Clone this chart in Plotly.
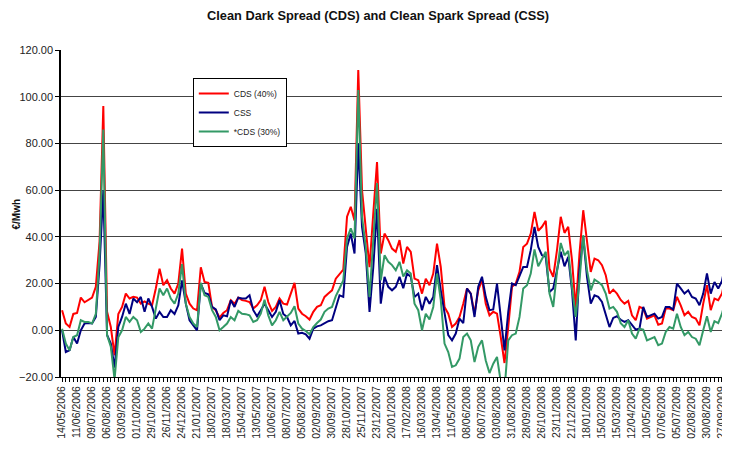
"""Clean Dark Spread (CDS) and Clean Spark Spread (CSS) weekly chart"""

import plotly.graph_objects as go
import pandas as pd

# weekly dates, 14/05/2006 onwards
dates = pd.date_range("2006-05-14", periods=179, freq="7D")

# CDS (40%) - €/Mwh
cds40 = [
    8.6, 2.9, 1.4, 7.0, 7.4, 14.0, 12.0, 13.0, 14.0, 18.6,
    38.0, 96.0, 7.9, 1.4, -10.7, 7.0, 10.0, 15.7, 13.6, 14.3,
    14.0, 11.4, 12.4, 11.4, 10.7, 17.9, 26.4, 19.3, 21.4, 17.9,
    15.7, 20.0, 35.0, 15.7, 11.4, 9.3, 8.6, 27.0, 20.7, 20.3,
    10.0, 8.6, 5.4, 7.4, 8.6, 12.9, 11.4, 14.0, 12.9, 12.6,
    12.1, 9.3, 10.7, 12.9, 18.6, 12.1, 8.3, 10.0, 13.6, 11.4,
    11.0, 15.7, 20.3, 9.3, 7.1, 6.0, 4.6, 7.9, 10.0, 10.7,
    14.3, 15.7, 17.1, 22.1, 24.3, 26.0, 48.6, 52.9, 47.0, 111.4,
    60.0, 42.9, 27.0, 50.0, 72.0, 32.9, 41.4, 38.6, 35.0, 33.6,
    38.6, 28.6, 35.7, 33.6, 22.1, 21.4, 15.7, 22.1, 19.3, 24.3,
    37.1, 27.1, 10.0, 7.1, 1.4, 2.9, 5.7, 11.4, 17.9, 15.7,
    7.1, 17.1, 21.7, 11.4, 6.4, 7.9, 7.1, -2.9, -14.0, 1.4,
    18.6, 20.0, 25.0, 35.7, 37.1, 41.4, 50.7, 42.6, 44.3, 46.9,
    26.4, 22.9, 34.3, 48.6, 41.7, 44.3, 30.0, 9.3, 32.9, 51.4,
    38.6, 25.0, 30.7, 30.0, 27.9, 23.6, 15.7, 17.4, 15.7, 13.0,
    11.4, 12.6, 6.4, 4.3, 10.0, 9.3, 5.0, 5.7, 6.4, 2.4,
    2.9, 9.3, 9.3, 8.6, 14.3, 10.7, 6.4, 7.9, 5.7, 5.0,
    2.1, 11.4, 19.3, 8.6, 13.6, 12.9, 15.7, 23.0, 23.0,
]

# CSS - €/Mwh
css = [
    0.0, -9.3, -8.6, -2.9, -5.7, 0.0, 2.9, 3.1, 2.9, 5.7,
    28.0, 60.0, -2.0, -5.7, -16.0, 1.4, 5.7, 11.4, 7.0, 13.6,
    12.0, 14.3, 7.9, 13.6, 10.0, 5.0, 7.9, 5.7, 5.7, 8.6,
    7.0, 10.7, 21.4, 11.4, 4.3, 2.1, 0.0, 20.0, 16.0, 15.4,
    10.0, 8.9, 4.3, 6.4, 6.0, 12.9, 10.0, 14.0, 13.6, 13.6,
    15.0, 8.6, 6.0, 8.6, 11.4, 8.6, 5.7, 7.9, 12.9, 7.0,
    5.7, 2.1, 4.0, -1.4, -1.1, -1.7, -3.6, 0.7, 1.7, 2.1,
    3.1, 3.9, 4.3, 10.0, 15.0, 14.3, 35.7, 41.4, 32.9, 80.0,
    44.3, 32.9, 7.9, 27.0, 52.0, 11.4, 22.9, 18.6, 17.1, 18.6,
    22.9, 18.0, 24.3, 22.9, 14.3, 15.7, 8.6, 14.3, 11.4, 14.3,
    27.9, 17.1, 7.1, -2.1, -4.3, -1.4, 5.0, 3.1, 17.9, 15.7,
    5.7, 18.6, 22.9, 14.3, 8.6, 8.9, 20.0, 5.0, -8.6, 7.9,
    20.0, 19.3, 22.9, 27.1, 27.1, 34.3, 44.3, 35.7, 32.1, 31.4,
    16.4, 17.9, 25.7, 33.6, 27.4, 31.4, 17.1, -4.3, 25.7, 40.0,
    22.9, 11.4, 15.0, 14.3, 12.1, 7.1, 1.4, 5.3, 6.0, 4.5,
    3.6, 4.3, 2.1, 0.3, 0.7, 10.0, 5.7, 6.4, 7.1, 5.0,
    5.7, 10.0, 10.0, 8.9, 20.0, 17.9, 15.7, 17.1, 14.3, 13.6,
    10.7, 15.7, 24.3, 15.7, 20.7, 17.9, 21.1, 29.3, 29.7,
]

# *CDS (30%) - €/Mwh
cds30 = [
    0.7, -5.7, -8.6, -2.9, -2.1, 4.3, 3.6, 3.6, 2.9, 7.0,
    33.0, 86.0, -2.0, -7.0, -21.0, -3.0, 0.0, 5.7, 3.6, 5.7,
    4.3, -0.7, 0.7, 2.9, 0.7, 10.0, 17.9, 15.0, 17.9, 13.6,
    11.4, 15.7, 28.3, 11.4, 5.7, 2.9, 1.4, 20.3, 15.0, 14.3,
    8.6, 5.7, 0.0, 1.4, 2.9, 5.7, 4.3, 8.3, 7.1, 6.9,
    6.4, 3.6, 4.3, 7.1, 13.1, 6.4, 2.1, 4.3, 7.9, 4.3,
    5.7, 7.4, 10.3, 2.9, 0.7, -0.3, -1.7, 1.4, 3.1, 4.6,
    7.9, 9.3, 10.0, 14.6, 17.9, 21.4, 39.3, 43.6, 39.3, 102.9,
    48.6, 35.7, 14.3, 40.0, 63.0, 21.4, 32.1, 29.3, 27.9, 25.7,
    29.3, 23.0, 25.7, 24.3, 11.4, 8.6, 0.0, 7.1, 4.6, 10.0,
    24.3, 12.9, -5.7, -9.3, -15.7, -15.0, -12.1, -2.9, -1.4, -4.3,
    -13.6, -7.1, -4.3, -12.9, -18.3, -14.3, -11.4, -22.0, -26.0, -4.3,
    -2.1, -1.4, 5.7, 17.9, 19.3, 24.3, 34.6, 27.4, 30.7, 33.6,
    15.7, 10.0, 25.0, 37.4, 32.1, 34.0, 18.6, 5.7, 21.4, 40.7,
    25.7, 17.1, 21.7, 20.7, 19.3, 15.7, 9.3, 10.0, 7.9, 3.0,
    1.4, 4.3, -1.4, -3.6, 0.7, 0.3, -4.3, -3.6, -2.9, -6.4,
    -5.7, -0.7, 1.4, 0.7, 7.1, 1.4, -2.1, -0.7, -2.9, -3.6,
    -6.4, 0.0, 6.0, -0.7, 3.9, 3.1, 7.1, 12.9, 13.1,
]

series = [
    ("CDS (40%)", cds40, "#FF0000"),
    ("CSS", css, "#000080"),
    ("*CDS (30%)", cds30, "#339966"),
]

FONT = "Arial, 'Liberation Sans', sans-serif"

fig = go.Figure()
for name, values, color in series:
    fig.add_trace(go.Scatter(
        x=dates,
        y=values,
        mode="lines",
        name=name,
        line=dict(color=color, width=2),
    ))

# label every 4th week
tick_dates = dates[::4]
tick_text = [d.strftime("%d/%m/%Y") for d in tick_dates]

# page body has an 8px margin, so the figure is sized to fill the rest
fig.update_layout(
    width=722,
    height=441,
    paper_bgcolor="white",
    plot_bgcolor="white",
    font=dict(family=FONT, color="#222222"),
    title=dict(
        text="<b>Clean Dark Spread (CDS) and Clean Spark Spread (CSS)</b>",
        font=dict(size=12.8, color="#111111"),
        xref="container", x=0.5125, xanchor="center",
        yref="container", y=0.993, yanchor="top",
        pad=dict(t=0),
    ),
    xaxis=dict(
        range=[dates[0] - pd.Timedelta(days=2), dates[-1] + pd.Timedelta(days=1)],
        tickvals=tick_dates,
        ticktext=tick_text,
        tickangle=-90,
        tickfont=dict(size=10.5),
        ticks="outside",
        ticklen=4,
        tickcolor="black",
        minor=dict(ticks="outside", ticklen=4, tickcolor="black",
                   dtick=7 * 86400000, tick0=dates[0]),
        showgrid=False,
        showline=True,
        linecolor="black",
        linewidth=1,
        zeroline=False,
        automargin=False,
    ),
    yaxis=dict(
        range=[-20, 120],
        dtick=20,
        tickformat=".2f",
        tickfont=dict(size=11),
        ticks="outside",
        ticklen=4,
        tickcolor="black",
        showgrid=True,
        gridcolor="#444444",
        gridwidth=1,
        showline=True,
        linecolor="black",
        linewidth=1.5,
        zeroline=False,
        automargin=False,
    ),
    legend=dict(
        x=0.197, y=0.914, xanchor="left", yanchor="top",
        bgcolor="white", bordercolor="black", borderwidth=1,
        font=dict(size=8.5),
        itemwidth=30,
        tracegroupgap=0,
    ),
    showlegend=True,
    margin=dict(l=53, r=0, t=42, b=72, autoexpand=False),
)

# y-axis title
fig.add_annotation(
    text="<b>€/Mwh</b>", xref="paper", yref="paper",
    x=-0.077, y=0.5, textangle=-90, showarrow=False,
    font=dict(size=10, color="#111111"),
)

fig.write_html("out.html")
